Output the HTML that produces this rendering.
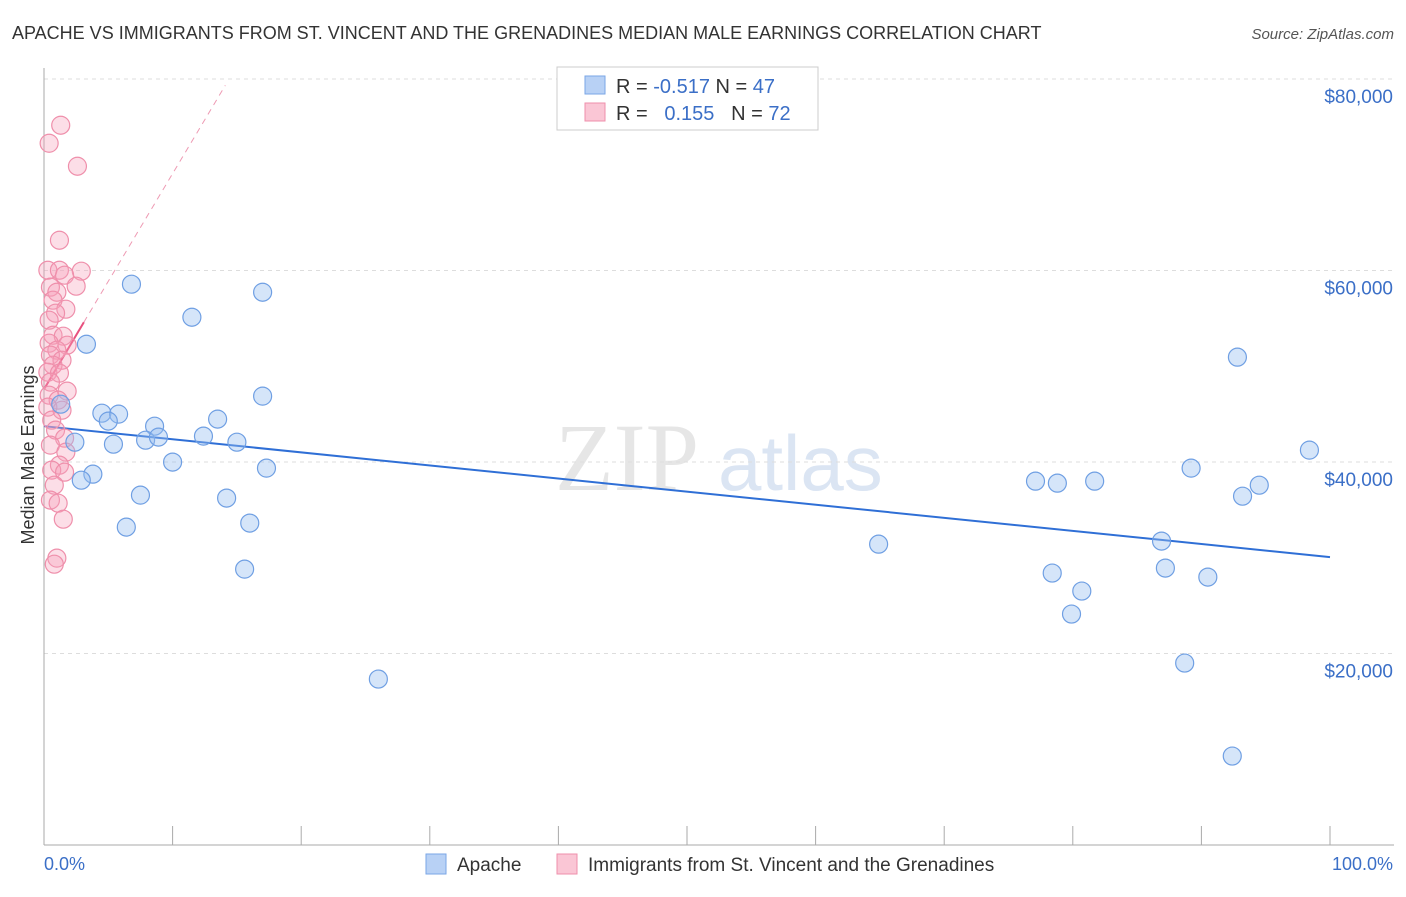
<!DOCTYPE html>
<html><head><meta charset="utf-8"><style>
body{margin:0;background:#fff;font-family:"Liberation Sans",sans-serif}
</style></head><body>
<svg id="chart" width="1406" height="892" xmlns="http://www.w3.org/2000/svg" font-family="Liberation Sans, sans-serif">
<text x="12" y="39" font-size="18" fill="#333">APACHE VS IMMIGRANTS FROM ST. VINCENT AND THE GRENADINES MEDIAN MALE EARNINGS CORRELATION CHART</text>
<text x="1394" y="39" font-size="15" fill="#555" text-anchor="end" font-style="italic">Source: ZipAtlas.com</text>
<g><text x="555" y="490" font-size="96" fill="#e6e6e6" font-family="Liberation Serif, serif">ZIP</text><text x="718" y="490" font-size="78" fill="#dbe5f3">atlas</text></g>
<g id="grid"></g><g id="axes"></g><g id="trends"></g><g id="pts"></g>
<text transform="translate(34,455) rotate(-90)" font-size="18" fill="#333" text-anchor="middle">Median Male Earnings</text>
<g>
<rect x="557" y="67" width="261" height="63" fill="#fff" stroke="#ccc"/>
<rect x="585" y="76" width="20" height="18" fill="#b8d1f5" stroke="#7aa6e6"/>
<rect x="585" y="103" width="20" height="18" fill="#fac6d5" stroke="#ef8fab"/>
<text x="616" y="93" font-size="20" fill="#333">R = <tspan fill="#3b6fc7">-0.517</tspan>   N = <tspan fill="#3b6fc7">47</tspan></text>
<text x="616" y="120" font-size="20" fill="#333" xml:space="preserve">R =   <tspan fill="#3b6fc7">0.155</tspan>   N = <tspan fill="#3b6fc7">72</tspan></text>
</g>
<g>
<rect x="426" y="854" width="20" height="20" fill="#b8d1f5" stroke="#7aa6e6"/>
<text x="457" y="871" font-size="19" fill="#333">Apache</text>
<rect x="557" y="854" width="20" height="20" fill="#fac6d5" stroke="#ef8fab"/>
<text x="588" y="871" font-size="19" fill="#333">Immigrants from St. Vincent and the Grenadines</text>
</g>
</svg>
<script>
const yTicks=[20000,40000,60000,80000];
const yTickLabels=["$20,000","$40,000","$60,000","$80,000"];
const xTickLabels=["0.0%","100.0%"];
const blueX=[6.8,11.5,17.0,3.3,92.8,1.3,4.5,5.8,5.0,8.6,13.5,17.0,2.4,5.4,7.9,8.9,12.4,15.0,98.4,10.0,17.3,3.8,2.9,77.1,78.8,81.7,89.2,94.5,93.2,7.5,14.2,6.4,16.0,64.9,86.9,15.6,78.4,87.2,90.5,80.7,79.9,88.7,26.0,92.4];
const blueY=[58570,55120,57730,52300,50950,46040,45100,45000,44270,43740,44480,46880,42070,41860,42280,42600,42700,42070,41240,39990,39360,38730,38100,38000,37790,38000,39360,37580,36430,36540,36230,33200,33620,31420,31740,28810,28400,28920,27980,26520,24120,19000,17330,9290];
const pinkX=[1.3,0.4,2.6,1.2,0.3,1.2,2.9,1.6,0.5,2.5,1.0,0.7,1.7,0.9,0.4,0.7,1.5,0.4,1.8,1.0,0.5,1.4,0.7,0.3,1.2,0.5,1.8,0.4,1.1,0.3,1.4,0.6,0.9,1.6,0.5,1.7,1.2,0.6,1.6,0.8,0.5,1.1,1.5,1.0,0.8];
const pinkY=[75170,73290,70890,63160,60030,60030,59930,59510,58260,58360,57730,56900,55960,55540,54810,53240,53140,52410,52200,51680,51160,50630,50110,49380,49280,48340,47400,46980,46460,45730,45410,44370,43330,42490,41760,41030,39670,39150,38940,37580,36020,35700,34030,29960,29330];
const blueTrend=[[0,43740],[100,30070]];
const pinkTrendSolid=[[0,47600],[3.1,54600]];
const pinkTrendDash=[[3.1,54600],[14.1,79340]];
const NS="http://www.w3.org/2000/svg";
const X=v=>44+v*12.86, Y=v=>845-v*191.5/20000;
function mk(tag,attrs,parent){const e=document.createElementNS(NS,tag);for(const k in attrs)e.setAttribute(k,attrs[k]);document.getElementById(parent).appendChild(e);return e;}
yTicks.forEach((t,i)=>{
 const g=mk('line',{x1:44,x2:1394,y1:Y(t),y2:Y(t),stroke:'#ddd','stroke-dasharray':'4,4'},'grid');
 
 
 const l=mk('text',{x:1393,y:Y(t)+24,'font-size':19,fill:'#3b6fc7','text-anchor':'end'},'axes');
 l.textContent=yTickLabels[i];
 
 
});
mk('line',{x1:44,x2:44,y1:68,y2:845,stroke:'#aaa'},'axes');
mk('line',{x1:44,x2:1394,y1:845,y2:845,stroke:'#aaa'},'axes');
for(let i=0;i<=10;i++){mk('line',{x1:X(i*10),x2:X(i*10),y1:826,y2:845,stroke:'#aaa'},'axes');}
const xl0=mk('text',{x:44,y:870,'font-size':18,fill:'#3b6fc7'},'axes');xl0.textContent=xTickLabels[0];


const xl1=mk('text',{x:1393,y:870,'font-size':18,fill:'#3b6fc7','text-anchor':'end'},'axes');xl1.textContent=xTickLabels[1];


const bt=mk('line',{x1:X(blueTrend[0][0]),y1:Y(blueTrend[0][1]),x2:X(blueTrend[1][0]),y2:Y(blueTrend[1][1]),stroke:'#2f6fd6','stroke-width':2},'trends');


const pd=mk('line',{x1:X(pinkTrendDash[0][0]),y1:Y(pinkTrendDash[0][1]),x2:X(pinkTrendDash[1][0]),y2:Y(pinkTrendDash[1][1]),stroke:'#ee9ab3','stroke-width':1,'stroke-dasharray':'6,5'},'trends');


const ps=mk('line',{x1:X(pinkTrendSolid[0][0]),y1:Y(pinkTrendSolid[0][1]),x2:X(pinkTrendSolid[1][0]),y2:Y(pinkTrendSolid[1][1]),stroke:'#e8507e','stroke-width':2},'trends');


pinkX.forEach((x,i)=>{
 const c=mk('circle',{cx:X(x),cy:Y(pinkY[i]),r:9,fill:'rgba(245,160,185,0.35)',stroke:'#ef8fab','stroke-width':1.2},'pts');
 
 
});
blueX.forEach((x,i)=>{
 const c=mk('circle',{cx:X(x),cy:Y(blueY[i]),r:9,fill:'rgba(150,190,240,0.4)',stroke:'#6f9fe3','stroke-width':1.2},'pts');
 
 
});
</script>
</body></html>
